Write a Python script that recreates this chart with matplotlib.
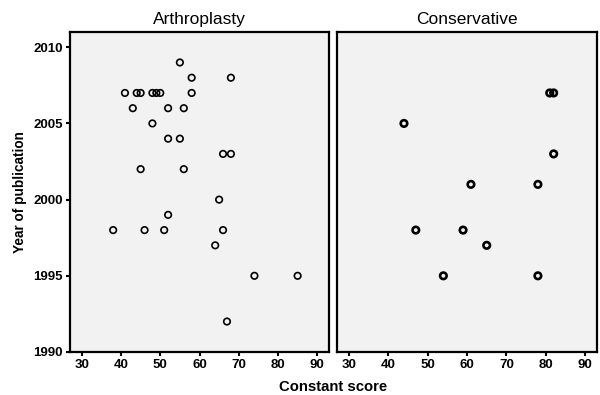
import matplotlib
matplotlib.use("Agg")
import matplotlib.pyplot as plt

plt.rcParams['font.family'] = ['Liberation Sans', 'DejaVu Sans']

# Arthroplasty studies: constant score vs year of publication
arth_score = [55, 58, 68, 41, 44, 45, 48, 49, 50, 58, 43, 52, 56, 48, 52, 55,
              66, 68, 45, 56, 65, 52, 38, 46, 51, 66, 64, 74, 85, 67]
arth_year = [2009, 2008, 2008, 2007, 2007, 2007, 2007, 2007, 2007, 2007,
             2006, 2006, 2006, 2005, 2004, 2004, 2003, 2003, 2002, 2002,
             2000, 1999, 1998, 1998, 1998, 1998, 1997, 1995, 1995, 1992]

# Conservative studies
cons_score = [81, 82, 44, 82, 61, 78, 47, 59, 65, 54, 78]
cons_year = [2007, 2007, 2005, 2003, 2001, 2001, 1998, 1998, 1997, 1995, 1995]

x_ticks = [30, 40, 50, 60, 70, 80, 90]
y_ticks = [1990, 1995, 2000, 2005, 2010]

fig = plt.figure(figsize=(6, 3.95), dpi=100)
W, H = 600, 395

def make_ax(left, right):
    ax = fig.add_axes([left / W, (H - 352) / H, (right - left) / W, 320 / H])
    ax.set_facecolor('#f2f2f2')
    ax.set_xlim(27, 93)
    ax.set_ylim(1990, 2011)
    ax.set_xticks(x_ticks)
    for s in ax.spines.values():
        s.set_linewidth(1.6)
    ax.tick_params(length=3, width=1.5, labelsize=9.5, pad=2)
    for lab in ax.get_xticklabels():
        lab.set_fontweight('bold')
    return ax

ax1 = make_ax(70, 329)
ax1.scatter(arth_score, arth_year, s=22, facecolors='none', edgecolors='black',
            linewidths=1.2, zorder=3)
ax1.set_yticks(y_ticks)
for lab in ax1.get_yticklabels():
    lab.set_fontweight('bold')
ax1.set_title('Arthroplasty', fontsize=12.5, pad=6)
ax1.set_ylabel('Year of publication', fontsize=9.8, fontweight='bold', labelpad=5)

ax2 = make_ax(337, 597)
ax2.scatter(cons_score, cons_year, s=22, facecolors='none', edgecolors='black',
            linewidths=1.9, zorder=3)
ax2.set_yticks([])
ax2.set_title('Conservative', fontsize=12.5, pad=6)

fig.text(333 / W, 1 - 387 / H, 'Constant score', ha='center', va='center',
         fontsize=10.7, fontweight='bold')

fig.savefig('out.png', dpi=100)
